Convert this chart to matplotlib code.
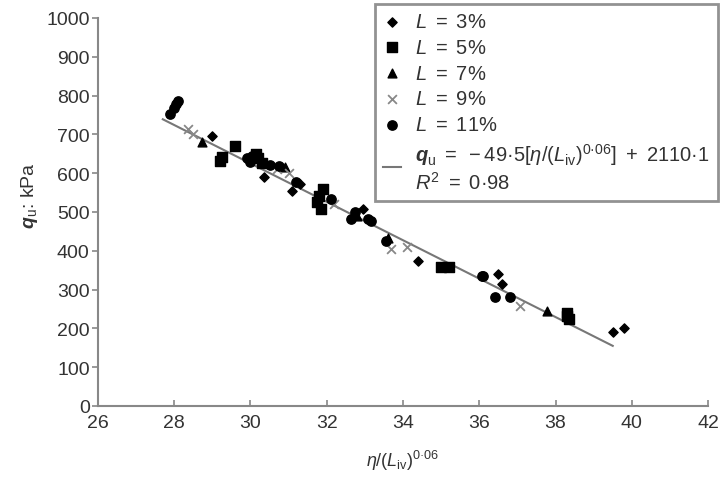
import matplotlib
matplotlib.use("Agg")
import matplotlib.pyplot as plt
import numpy as np

plt.rcParams['font.family'] = ['Liberation Sans', 'DejaVu Sans']
plt.rcParams['mathtext.fontset'] = 'custom'
plt.rcParams['mathtext.rm'] = 'Liberation Sans'
plt.rcParams['mathtext.it'] = 'Liberation Sans:italic'
plt.rcParams['mathtext.bf'] = 'Liberation Sans:bold'
plt.rcParams['mathtext.bfit'] = 'Liberation Sans:bold:italic'

# Data
x_L3 = [29.0, 30.35, 31.3, 31.1, 32.95, 34.4, 36.5, 36.6, 39.5, 39.8]
y_L3 = [696, 590, 572, 554, 508, 374, 340, 314, 191, 201]

x_L5 = [29.6, 29.26, 29.2, 30.2, 30.3, 30.15, 31.86, 31.8, 31.9, 31.75, 35.0, 35.2, 38.3, 38.35, 38.3]
y_L5 = [670, 642, 631, 640, 625, 650, 508, 541, 559, 525, 358, 358, 240, 225, 232]

x_L7 = [28.73, 30.9, 33.6, 37.77, 32.8]
y_L7 = [680, 615, 432, 245, 490]

x_L9 = [28.35, 28.5, 30.7, 31.0, 33.68, 34.1, 37.07, 32.2]
y_L9 = [714, 700, 612, 600, 405, 410, 258, 520]

x_L11 = [27.9, 28.0, 28.05, 28.1, 29.9, 30.05, 30.0, 30.5, 30.74, 31.2, 32.1, 32.64,
         32.74, 33.08, 33.15, 33.55, 36.08, 36.1, 36.4, 36.8]
y_L11 = [752, 768, 778, 785, 640, 645, 628, 620, 619, 577, 533, 482,
         500, 482, 477, 425, 335, 336, 281, 281]

fit_slope = -49.5
fit_intercept = 2110.1
fit_x_range = [27.7, 39.5]

xticks = [26, 28, 30, 32, 34, 36, 38, 40, 42]
yticks = [0, 100, 200, 300, 400, 500, 600, 700, 800, 900, 1000]

fig = plt.figure(figsize=(7.22, 4.81), dpi=100)
ax = fig.add_axes([0.1357, 0.154, 0.845, 0.8065])

txt = '#333333'
ax.scatter(x_L3, y_L3, marker='D', s=22, color='black', label=r'$L\ =\ 3\%$', zorder=3)
ax.scatter(x_L5, y_L5, marker='s', s=45, color='black', label=r'$L\ =\ 5\%$', zorder=3)
ax.scatter(x_L7, y_L7, marker='^', s=40, color='black', label=r'$L\ =\ 7\%$', zorder=3)
ax.scatter(x_L9, y_L9, marker='x', s=40, color='#888888', linewidths=1.3, label=r'$L\ =\ 9\%$', zorder=3)
ax.scatter(x_L11, y_L11, marker='o', s=45, color='black', label=r'$L\ =\ 11\%$', zorder=3)

fx = np.array(fit_x_range)
fit_label = ('$\\boldsymbol{q}_{\\mathrm{u}}\\ =\\ \u221249\u00b75[\\eta/(L_{\\mathrm{iv}})^{0\u00b706}]\\ +\\ 2110\u00b71$'
             '\n$R^2\\ =\\ 0\u00b798$')
ax.plot(fx, fit_slope * fx + fit_intercept, color='#777777', lw=1.5, label=fit_label, zorder=2)

ax.set_xlim(26, 42)
ax.set_ylim(0, 1000)
ax.set_xticks(xticks)
ax.set_yticks(yticks)
for s in ['top', 'right']:
    ax.spines[s].set_visible(False)
for s in ['left', 'bottom']:
    ax.spines[s].set_color('#888888')
    ax.spines[s].set_linewidth(1.5)
ax.tick_params(axis='y', direction='out', length=4, color='#888888', labelsize=14, labelcolor=txt, width=1.2, pad=2)
ax.tick_params(axis='x', direction='in', length=4, color='#888888', labelsize=14, labelcolor=txt, width=1.2, pad=6)

ax.set_xlabel('$\\eta/(L_{\\mathrm{iv}})^{0\u00b706}$', fontsize=13, color=txt, labelpad=12)
ax.set_ylabel(r'$\boldsymbol{q}_{\mathrm{u}}$: kPa', fontsize=14, color=txt)
ax.yaxis.set_label_coords(-0.095, 0.545)

leg = ax.legend(loc='upper right', bbox_to_anchor=(0.994, 0.99), bbox_transform=fig.transFigure,
                fontsize=14.5, frameon=True, fancybox=False, handlelength=0.9, handletextpad=0.7,
                labelspacing=0.34, borderpad=0.4, borderaxespad=0.0, scatterpoints=1, labelcolor=txt)
leg.get_frame().set_edgecolor('#777777')
leg.get_frame().set_linewidth(2)

fig.savefig('out.png', dpi=100)
